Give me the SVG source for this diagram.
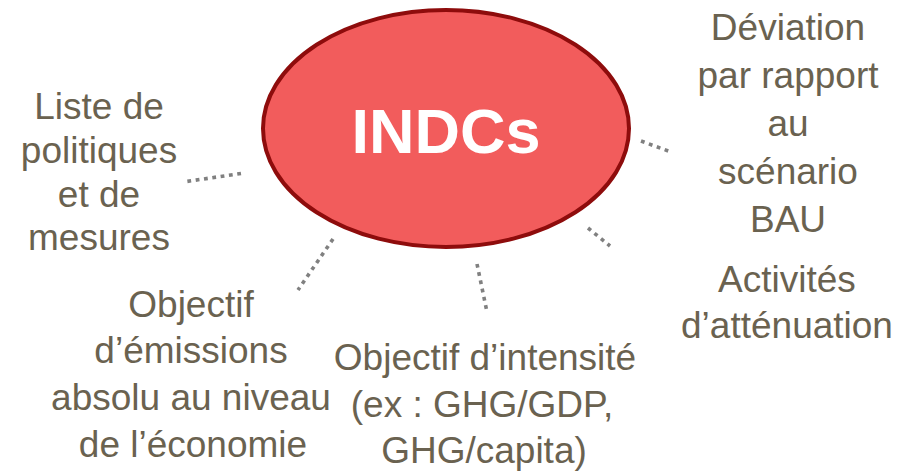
<svg xmlns="http://www.w3.org/2000/svg" width="912" height="473" viewBox="0 0 912 473">
<style>
.lbl{font-family:"Liberation Sans",Arial,sans-serif;font-size:37px;fill:#6A6250;text-anchor:middle}
.hub{font-family:"Liberation Sans",Arial,sans-serif;font-size:63px;font-weight:bold;fill:#FFFFFF;text-anchor:middle}
.conn{stroke:#808080;stroke-width:3.6;stroke-dasharray:3.8 4.6;fill:none}
</style>
<rect width="912" height="473" fill="#FFFFFF"/>
<g id="connectors">
<line class="conn" x1="241" y1="173.5" x2="183" y2="182"/>
<line class="conn" x1="333" y1="239" x2="298" y2="290"/>
<line class="conn" x1="477" y1="264" x2="487" y2="312"/>
<line class="conn" x1="588" y1="228" x2="610" y2="246"/>
<line class="conn" x1="641" y1="141" x2="671" y2="152"/>
</g>
<g id="indcs">
<ellipse cx="446" cy="128.5" rx="183" ry="118.5" fill="#F25C5C" stroke="#8E0C0C" stroke-width="4"/>
<text class="hub" x="446" y="153">INDCs</text>
</g>
<g id="liste">
<text class="lbl" x="99" y="119">Liste de</text>
<text class="lbl" x="99" y="163">politiques</text>
<text class="lbl" x="99" y="207">et de</text>
<text class="lbl" x="99" y="250">mesures</text>
</g>
<g id="deviation">
<text class="lbl" x="788" y="40">Déviation</text>
<text class="lbl" x="788" y="88">par rapport</text>
<text class="lbl" x="788" y="136">au</text>
<text class="lbl" x="788" y="184">scénario</text>
<text class="lbl" x="788" y="232">BAU</text>
</g>
<g id="activites">
<text class="lbl" x="787" y="292">Activités</text>
<text class="lbl" x="787" y="338">d’atténuation</text>
</g>
<g id="absolu">
<text class="lbl" x="191" y="317">Objectif</text>
<text class="lbl" x="191" y="363">d’émissions</text>
<text class="lbl" x="191" y="410">absolu au niveau</text>
<text class="lbl" x="193" y="457">de l’économie</text>
</g>
<g id="intensite">
<text class="lbl" x="485" y="370">Objectif d’intensité</text>
<text class="lbl" x="482" y="417">(ex : GHG/GDP,</text>
<text class="lbl" x="484" y="463">GHG/capita)</text>
</g>
</svg>
